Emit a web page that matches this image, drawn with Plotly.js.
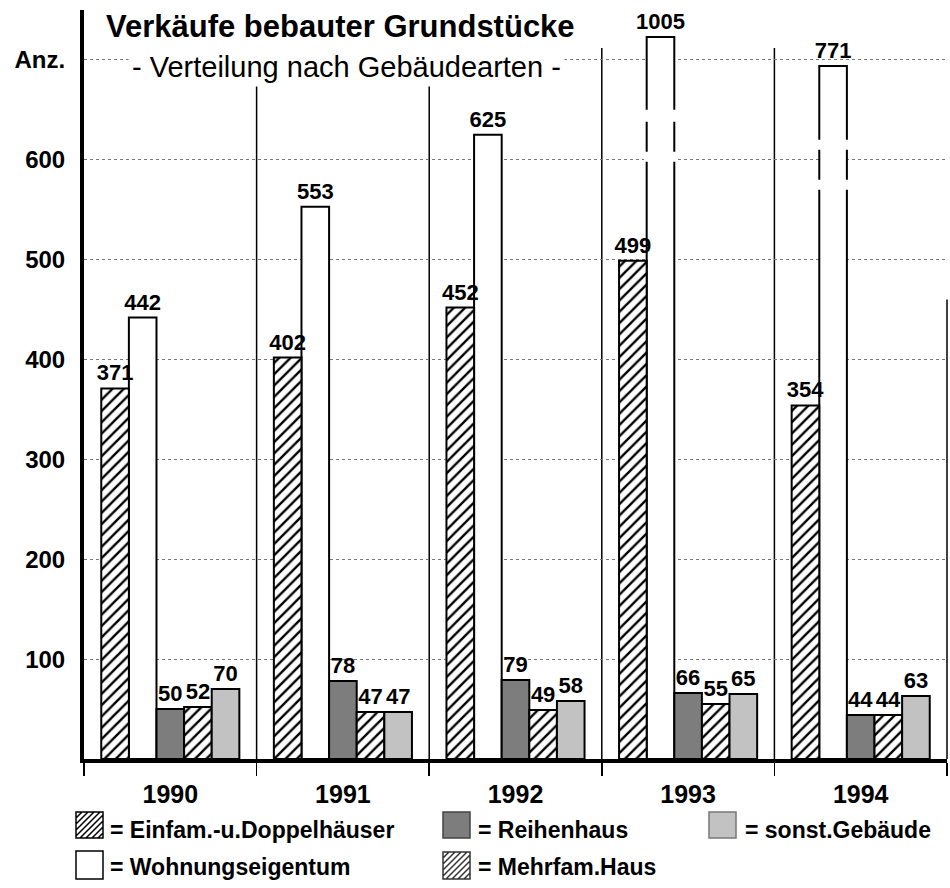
<html>
<head>
<meta charset="utf-8">
<script src="https://cdn.plot.ly/plotly-3.0.1.min.js"></script>
<style>
  body { margin: 0; background: #fff; }
  #chart { width: 950px; height: 888px; }
</style>
</head>
<body>
<div id="chart"></div>
<script>
var years = ['1990', '1991', '1992', '1993', '1994'];
var einfam = [371, 402, 452, 499, 354];
var wohnung = [442, 553, 625, 1005, 771];
var reihen = [50, 78, 79, 66, 44];
var mehrfam = [52, 47, 49, 55, 44];
var sonst = [70, 47, 58, 65, 63];
// the value axis is broken for 1993 and 1994, so those bars are drawn shorter
var wohnungDrawn = [442, 553, 625, 723, 694];

var FONT = 'Liberation Sans, Arial, sans-serif';
var L = 84, R = 3, T = 10, B = 129, W = 950, H = 888;
var plotW = W - L - R, plotH = H - T - B;
function px2x(p) { return (p - L) / plotW; }
function px2y(p) { return (H - B - p) / plotH; }

var hatch = {shape: '/', fgcolor: '#000', bgcolor: '#fff', size: 8, solidity: 0.3};
var edge = {color: '#000', width: 2};
var labelFont = {family: FONT, size: 22, color: '#000', weight: 'bold'};
var BW = 0.16;

function barTrace(name, y, text, slot, marker) {
    return {
        type: 'bar', name: name, x: years, y: y,
        width: BW, offset: -0.4 + slot * BW,
        text: text.map(String), textposition: 'outside', textfont: labelFont,
        constraintext: 'none', cliponaxis: false, hoverinfo: 'skip',
        marker: marker
    };
}

// einfam comes last so its labels sit on top of the white bars
var data = [
    barTrace('Wohnungseigentum', wohnungDrawn, wohnung, 1, {color: '#fff', line: edge}),
    barTrace('Reihenhaus', reihen, reihen, 2, {color: '#7d7d7d', line: edge}),
    barTrace('Mehrfam.Haus', mehrfam, mehrfam, 3, {color: '#fff', pattern: hatch, line: edge}),
    barTrace('sonst.Gebäude', sonst, sonst, 4, {color: '#c2c2c2', line: edge}),
    barTrace('Einfam.-u.Doppelhäuser', einfam, einfam, 0, {color: '#fff', pattern: hatch, line: edge})
];

var shapes = [];
// category separators
for (var i = 0; i < years.length - 1; i++) {
    shapes.push({type: 'line', xref: 'x', yref: 'y', x0: i + 0.5, x1: i + 0.5, y0: 0, y1: 712,
        line: {color: '#000', width: 1.5}, layer: 'below'});
}
shapes.push({type: 'line', xref: 'paper', yref: 'y', x0: 1, x1: 1, y0: 0, y1: 460,
    line: {color: '#000', width: 1.5}, layer: 'below'});

// gaps in the outline of the broken bars
var breaks = [[3, 598, 608], [3, 638, 650], [4, 570, 580], [4, 610, 620]];
breaks.forEach(function (b) {
    shapes.push({type: 'rect', xref: 'x', yref: 'y', x0: b[0] - 0.255, x1: b[0] - 0.065,
        y0: b[1], y1: b[2], fillcolor: '#fff', line: {width: 0}});
});

// legend drawn by hand, two rows and three columns like the original
function hatchIcon(x0, y0, w, h, col) {
    var p = 'M' + px2x(x0) + ',' + px2y(y0) + 'L' + px2x(x0 + w) + ',' + px2y(y0) +
        'L' + px2x(x0 + w) + ',' + px2y(y0 + h) + 'L' + px2x(x0) + ',' + px2y(y0 + h) + 'Z';
    for (var c = 6; c < w + h; c += 6) {
        var ua = Math.max(0, c - h), ub = Math.min(w, c);
        p += 'M' + px2x(x0 + ua) + ',' + px2y(y0 + c - ua) + 'L' + px2x(x0 + ub) + ',' + px2y(y0 + c - ub);
    }
    shapes.push({type: 'path', xref: 'paper', yref: 'paper', path: p, line: {color: col, width: 1.5}});
}
function boxIcon(x0, y0, w, h, fill, col) {
    shapes.push({type: 'rect', xref: 'paper', yref: 'paper', x0: px2x(x0), x1: px2x(x0 + w),
        y0: px2y(y0 + h), y1: px2y(y0), fillcolor: fill, line: {color: col, width: 1.5}});
}
hatchIcon(76, 812, 27, 26, '#000');
boxIcon(443, 812, 27, 26, '#7d7d7d', '#444');
boxIcon(709, 812, 27, 26, '#c2c2c2', '#777');
boxIcon(76, 851, 27, 28, '#fff', '#000');
hatchIcon(443, 852, 27, 27, '#333');

var legendItems = [
    ['= Einfam.-u.Doppelhäuser', 108, 830],
    ['= Reihenhaus', 476, 830],
    ['= sonst.Gebäude', 743, 830],
    ['= Wohnungseigentum', 108, 867],
    ['= Mehrfam.Haus', 476, 867]
];
var annotations = legendItems.map(function (it) {
    return {xref: 'paper', yref: 'paper', x: px2x(it[1]), y: px2y(it[2]), xanchor: 'left', yanchor: 'middle',
        text: '<b>' + it[0] + '</b>', showarrow: false, font: {family: FONT, size: 23, color: '#000'}};
});
annotations.push({xref: 'paper', yref: 'paper', x: px2x(340), y: px2y(26), xanchor: 'center', yanchor: 'middle',
    text: '<b>Verkäufe bebauter Grundstücke</b>', showarrow: false, bgcolor: '#fff', borderpad: 3,
    font: {family: FONT, size: 31, color: '#000'}});
annotations.push({xref: 'paper', yref: 'paper', x: px2x(346), y: px2y(67), xanchor: 'center', yanchor: 'middle',
    text: '- Verteilung nach Gebäudearten -', showarrow: false, bgcolor: '#fff', borderpad: 3,
    font: {family: FONT, size: 29, color: '#000'}});

var layout = {
    width: W, height: H,
    margin: {l: L, r: R, t: T, b: B},
    paper_bgcolor: '#fff', plot_bgcolor: '#fff',
    showlegend: false,
    barmode: 'overlay',
    xaxis: {
        type: 'category', showgrid: false, showline: true, linewidth: 4, linecolor: '#000',
        tickson: 'boundaries', ticks: 'outside', ticklen: 13, tickwidth: 1.5, tickcolor: '#000',
        ticklabelstandoff: 10,
        tickfont: {family: FONT, size: 25, color: '#000', weight: 'bold'}
    },
    yaxis: {
        range: [0, 750], showline: true, linewidth: 4, linecolor: '#000', zeroline: false,
        tickvals: [100, 200, 300, 400, 500, 600, 700],
        ticktext: ['100', '200', '300', '400', '500', '600', 'Anz.'],
        ticks: '', ticklabelstandoff: 10,
        showgrid: true, gridcolor: '#777', gridwidth: 1, griddash: 'dot',
        tickfont: {family: FONT, size: 24, color: '#000', weight: 'bold'}
    },
    shapes: shapes,
    annotations: annotations
};

Plotly.newPlot('chart', data, layout, {staticPlot: true});
</script>
</body>
</html>
